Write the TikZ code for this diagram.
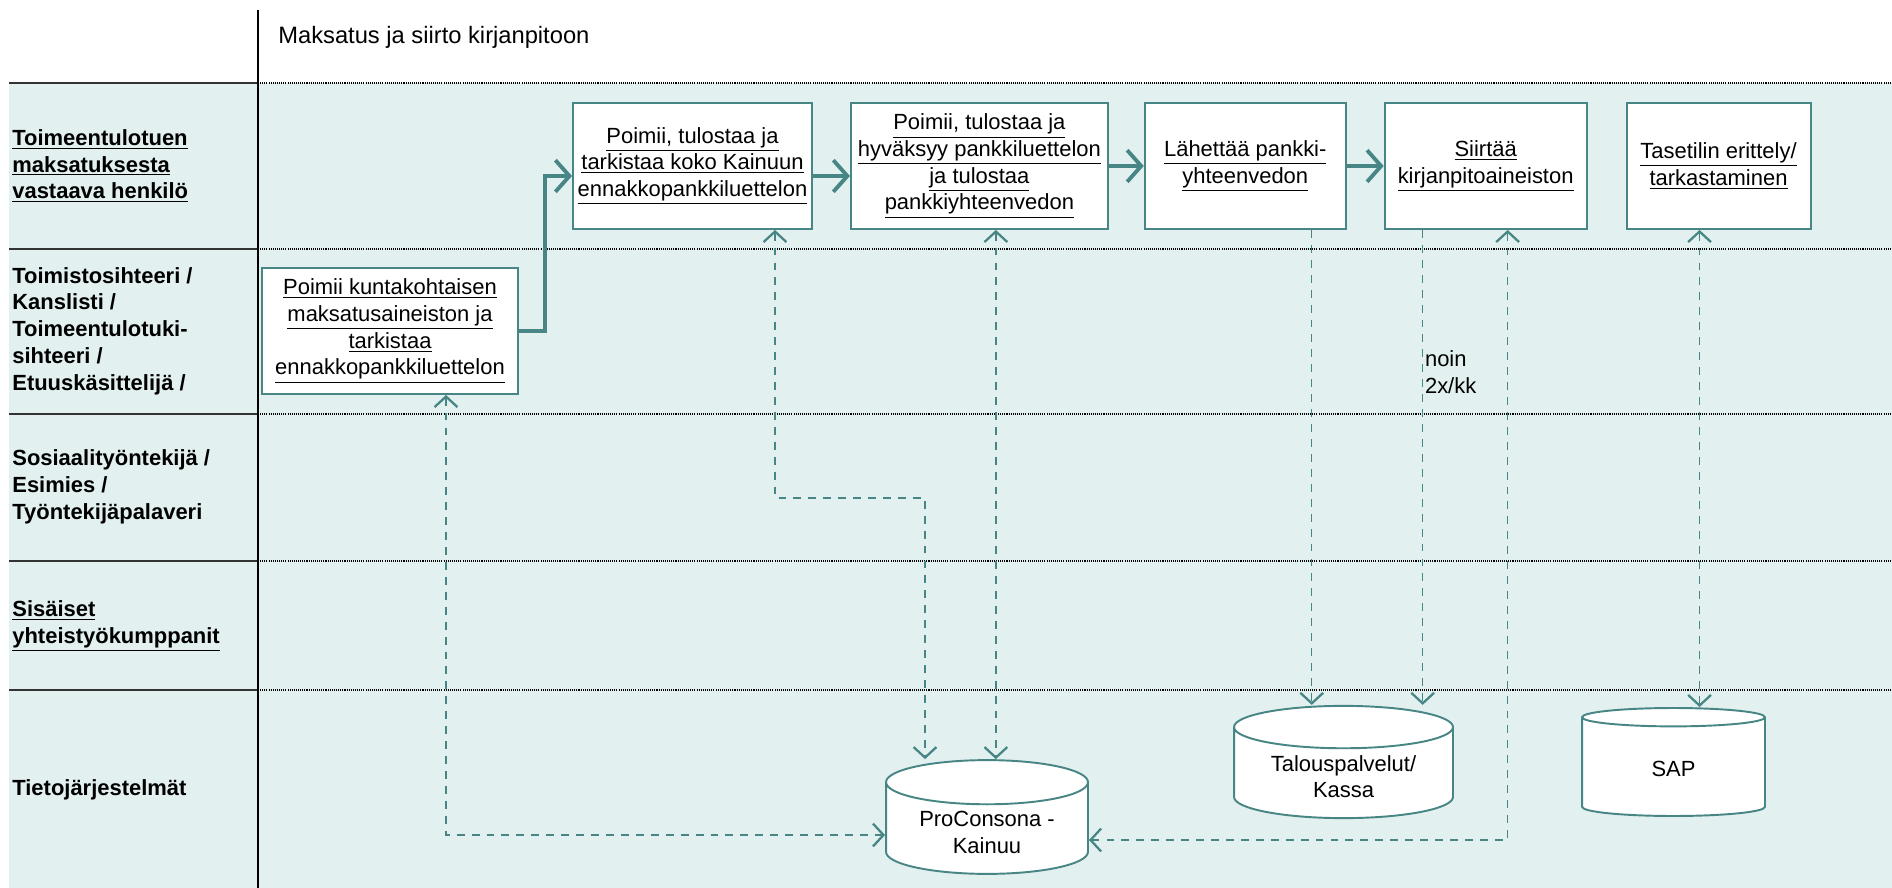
\documentclass[tikz,border=0pt]{standalone}
\usepackage{fontspec}
\setmainfont{Liberation Sans}
\usetikzlibrary{positioning, arrows.meta, shapes.geometric}
\definecolor{lanebg}{RGB}{227,240,240}
\definecolor{tealline}{RGB}{72,134,134}
\newcommand{\lnk}[1]{\underline{#1}}

\begin{document}
\begin{tikzpicture}[x=0.02cm, y=-0.02cm, >={Straight Barb[length=6pt,width=13pt,line width=1.3pt]},
		node distance=0.74cm, font=\fontsize{12.5}{15.2}\selectfont,
		task/.style={draw=tealline, line width=1.1pt, fill=white, minimum height=2.52cm, align=center, inner sep=1pt},
		store/.style={cylinder, shape border rotate=90, draw=tealline, line width=1.1pt, fill=white,
			minimum height=2.16cm, align=center, anchor=shape center},
		flow/.style={draw=tealline, line width=2.2pt, -{Straight Barb[length=8pt,width=18pt,line width=2.2pt]}},
		link/.style={draw=tealline, line width=0.7pt, dash pattern=on 4.5pt off 4pt},
		lane/.style={anchor=west, align=left, inner sep=0pt, font=\fontsize{12.5}{15.2}\selectfont\bfseries},
		sep/.style={line width=0.7pt, dash pattern=on 0.6pt off 0.6pt}]
		\useasboundingbox (0,0) rectangle (1892,888);
		\fill[white] (0,0) rectangle (1892,888);
		\fill[lanebg] (9,83) rectangle (1892,888);
		\foreach \y in {83,249,414,561,690} {
			\draw[line width=1.4pt, black!80] (9,\y) -- (258,\y);
			\draw[sep] (258,\y) -- (1892,\y);
		}
		\draw[line width=0.9pt] (258,10) -- (258,888);
		\node[anchor=west, inner sep=0pt, font=\fontsize{13.5}{16}\selectfont] (title) at (278,37) {Maksatus ja siirto kirjanpitoon};

		% kaistat
		\node[lane] (vastaava) at (12,166) {\lnk{Toimeentulotuen}\\\lnk{maksatuksesta}\\\lnk{vastaava henkilö}};
		\node[lane] (toimisto) at (12,331) {Toimistosihteeri /\\Kanslisti /\\Toimeentulotuki-\\sihteeri /\\Etuuskäsittelijä /};
		\node[lane] (sosiaali) at (12,487) {Sosiaalityöntekijä /\\Esimies /\\Työntekijäpalaveri};
		\node[lane] (sisaiset) at (12,626) {\lnk{Sisäiset}\\\lnk{yhteistyökumppanit}};
		\node[lane] (tieto) at (12,790) {Tietojärjestelmät};

		% tehtävät
		\node[task, minimum width=5.12cm] (pick) at (390,331) {\lnk{Poimii kuntakohtaisen}\\\lnk{maksatusaineiston ja}\\\lnk{tarkistaa}\\\lnk{ennakkopankkiluettelon}};
		\node[task, minimum width=4.78cm] (print) at (692.5,166) {\lnk{Poimii, tulostaa ja}\\\lnk{tarkistaa koko Kainuun}\\\lnk{ennakkopankkiluettelon}};
		\node[task, minimum width=5.14cm, right=of print] (approve) {\lnk{Poimii, tulostaa ja}\\\lnk{hyväksyy pankkiluettelon}\\\lnk{ja tulostaa}\\\lnk{pankkiyhteenvedon}};
		\node[task, minimum width=4.02cm, right=0.7cm of approve] (send) {\lnk{Lähettää pankki-}\\\lnk{yhteenvedon}};
		\node[task, minimum width=4.04cm, right=of send] (move) {\lnk{Siirtää}\\\lnk{kirjanpitoaineiston}};
		\node[task, minimum width=3.68cm, right=0.76cm of move] (check) {\lnk{Tasetilin erittely/}\\\lnk{tarkastaminen}};

		% järjestelmät
		\node[store, aspect=0.3, minimum width=4.04cm] (pro) at (987,817) {ProConsona -\\Kainuu};
		\node[store, aspect=0.27, minimum width=4.38cm] (talous) at (1343.5,762) {Talouspalvelut/\\Kassa};
		\node[store, aspect=0.33, minimum width=3.66cm] (sap) at (1673.5,762) {SAP};

		\draw[flow] (pick.east) -- ++(26,0) |- ([yshift=-0.2cm]print.west);
		\draw[flow] ([yshift=-0.2cm]print.east) -- ([yshift=-0.2cm]approve.west);
		\draw[flow] (approve) -- (send);
		\draw[flow] (send) -- (move);

		\draw[link, <->] ([xshift=1.12cm]pick.south) |- ([yshift=-0.36cm]pro.shape center -| pro.west);
		\draw[link, <->] ([xshift=1.65cm]print.south) -- ++(0,268) -| ([xshift=-1.24cm]pro.north);
		\draw[link, <->] ([xshift=0.33cm]approve.south) -- ([xshift=0.33cm]approve.south |- pro.north);
		\draw[link, ->] ([xshift=1.33cm]send.south) -- ([xshift=1.33cm]send.south |- talous.north);
		\draw[link, ->] ([xshift=-1.26cm]move.south) -- node[pos=0.3, anchor=west, inner sep=0pt, xshift=1pt, align=left] (noin) {noin\\2x/kk} ([xshift=-1.26cm]move.south |- talous.north);
		\draw[link, <->] ([xshift=0.44cm]move.south) |- ([yshift=-0.46cm]pro.shape center -| pro.east);
		\draw[link, <->] ([xshift=-0.38cm]check.south) -- ([xshift=-0.38cm]check.south |- sap.north);
	\end{tikzpicture}
\end{document}
